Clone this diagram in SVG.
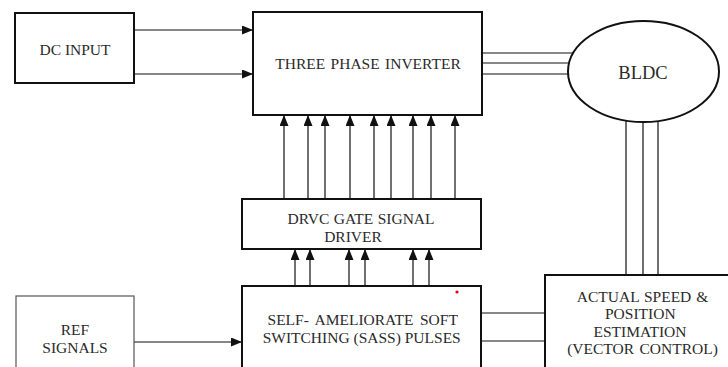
<svg xmlns="http://www.w3.org/2000/svg" width="728" height="367" viewBox="0 0 728 367">
<style>
.box{fill:#fff;stroke:#111;stroke-width:2}
.thin{fill:#fff;stroke:#555;stroke-width:1.2}
.ln{fill:none;stroke:#111;stroke-width:1.2}
text{font-family:'Liberation Serif','Times New Roman',Times,serif;font-size:15.5px;fill:#2a2a2a;text-anchor:middle}
</style>
<defs>
<marker id="ah" markerUnits="userSpaceOnUse" markerWidth="11" markerHeight="9" refX="11" refY="4.5" orient="auto">
<path d="M0,0 L11,4.5 L0,9 z" fill="#111"/>
</marker>
</defs>
<rect width="728" height="367" fill="#fff"/>
<g id="connectors">
<path class="ln" d="M134,30 H253" marker-end="url(#ah)"/>
<path class="ln" d="M134,74 H253" marker-end="url(#ah)"/>
<path class="ln" d="M482,53 H600 M482,63 H600 M482,74 H600"/>
<path class="ln" d="M626,110 V275 M643,110 V275 M658,110 V275"/>
<path class="ln" d="M284,199 V115" marker-end="url(#ah)"/>
<path class="ln" d="M308,199 V115" marker-end="url(#ah)"/>
<path class="ln" d="M325,199 V115" marker-end="url(#ah)"/>
<path class="ln" d="M350,199 V115" marker-end="url(#ah)"/>
<path class="ln" d="M374,199 V115" marker-end="url(#ah)"/>
<path class="ln" d="M391,199 V115" marker-end="url(#ah)"/>
<path class="ln" d="M413,199 V115" marker-end="url(#ah)"/>
<path class="ln" d="M431,199 V115" marker-end="url(#ah)"/>
<path class="ln" d="M455,199 V115" marker-end="url(#ah)"/>
<path class="ln" d="M295,286 V249" marker-end="url(#ah)"/>
<path class="ln" d="M310,286 V249" marker-end="url(#ah)"/>
<path class="ln" d="M349,286 V249" marker-end="url(#ah)"/>
<path class="ln" d="M365,286 V249" marker-end="url(#ah)"/>
<path class="ln" d="M413,286 V249" marker-end="url(#ah)"/>
<path class="ln" d="M429,286 V249" marker-end="url(#ah)"/>
<path class="ln" d="M134,342 H242" marker-end="url(#ah)"/>
<path class="ln" d="M481,313 H545 M481,341 H545"/>
</g>
<g id="dc-input">
<rect class="box" x="15" y="13" width="119" height="70"/>
<text x="75" y="55">DC INPUT</text>
</g>
<g id="inverter">
<rect class="box" x="253" y="12" width="229" height="103"/>
<text x="368" y="69" word-spacing="1.5">THREE PHASE INVERTER</text>
</g>
<g id="bldc">
<ellipse cx="643.5" cy="71.5" rx="75.5" ry="50.5" fill="#fff" stroke="#111" stroke-width="2"/>
<text x="643" y="79" style="font-size:18.5px">BLDC</text>
</g>
<g id="driver">
<rect class="box" x="242" y="199" width="239" height="50"/>
<text x="361" y="224" word-spacing="0.5">DRVC GATE SIGNAL</text>
<text x="353" y="241.7">DRIVER</text>
</g>
<g id="sass">
<rect class="box" x="242" y="286" width="239" height="90"/>
<text x="362.7" y="325" word-spacing="2.6">SELF- AMELIORATE SOFT</text>
<text x="361.7" y="343">SWITCHING (SASS) PULSES</text>
<circle cx="457" cy="292" r="1.6" fill="#e00"/>
</g>
<g id="ref">
<rect class="thin" x="16" y="296" width="118" height="80"/>
<text x="75" y="335">REF</text>
<text x="75" y="353">SIGNALS</text>
</g>
<g id="estimation">
<rect class="box" x="545" y="275" width="200" height="100"/>
<text x="642.5" y="301.7" word-spacing="1">ACTUAL SPEED &amp;</text>
<text x="640.3" y="319">POSITION</text>
<text x="640" y="337.3">ESTIMATION</text>
<text x="642.5" y="354" word-spacing="1.5">(VECTOR CONTROL)</text>
</g>
</svg>
